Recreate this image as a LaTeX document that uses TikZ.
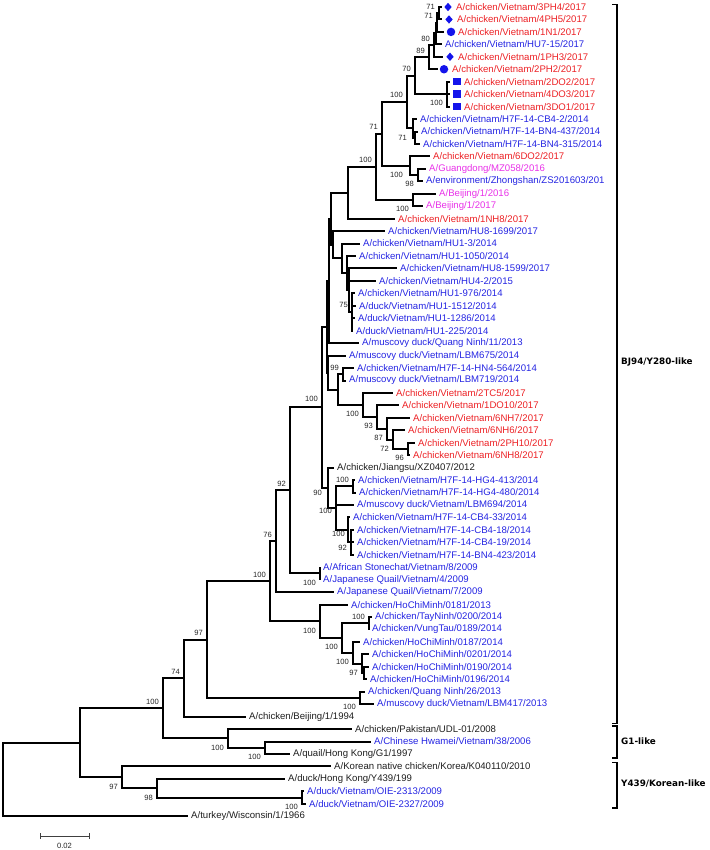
\documentclass[tikz,border=0pt]{standalone}
\usepackage{fontspec}
\usepackage{xcolor}
\usepackage{tikz}
\usetikzlibrary{shapes.geometric}
\setmainfont{Liberation Sans}
\newfontfamily\cladeface{DejaVu Sans}
\newcommand{\leaffont}{\fontsize{9.6pt}{11pt}\selectfont}
\newcommand{\bootfont}{\fontsize{7.6pt}{9pt}\selectfont}
\newcommand{\cladefont}{\cladeface\bfseries\fontsize{8.8pt}{10pt}\selectfont}
\definecolor{vnred}{RGB}{236,32,36}
\definecolor{vnblue}{RGB}{36,36,226}
\definecolor{cnpink}{RGB}{232,48,232}
\definecolor{mkblue}{RGB}{20,20,235}
\definecolor{oldblack}{RGB}{30,30,30}

\begin{document}
\begin{tikzpicture}[x=1pt, y=-12.45pt,
        branch/.style={line width=2pt},
        bracket/.style={line width=1.3pt},
        scalebar/.style={line width=0.9pt, black!75},
        leaf/.style={anchor=west, inner xsep=3pt, inner ysep=1pt, font=\leaffont},
        boot/.style={font=\bootfont, inner sep=0pt, text=black!85},
        bup/.style={boot, anchor=south east, xshift=-4pt, yshift=3.8pt},
        bdn/.style={boot, anchor=north east, xshift=-4pt, yshift=-6.3pt},
        clade/.style={anchor=west, inner sep=0pt, font=\cladefont},
        mdiam/.style={diamond, fill=mkblue, inner sep=0pt, minimum width=7.5pt, minimum height=8.5pt},
        mdot/.style={circle, fill=mkblue, inner sep=0pt, minimum size=8.5pt},
        msq/.style={rectangle, fill=mkblue, inner sep=0pt, minimum size=7.5pt}
    ]
    \useasboundingbox (0,0.4378) rectangle (709,68.71);

    % internal nodes
    \coordinate (n1) at (439,1.5);     \coordinate (n2) at (437,2.25);
    \coordinate (n3) at (436,3.125);   \coordinate (n4) at (434,4.06);
    \coordinate (n5) at (429,5.03);    \coordinate (n7) at (447,8);
    \coordinate (n6) at (415,6.52);    \coordinate (n9a) at (415,11.5);
    \coordinate (n9) at (413,10.75);   \coordinate (n8) at (407,8.63);
    \coordinate (n13) at (418,14.5);   \coordinate (n12) at (410,13.75);
    \coordinate (n11) at (382,11.19);  \coordinate (n14) at (413,16.5);
    \coordinate (n15) at (376,13.84);  \coordinate (n16) at (348,15.92);
    \coordinate (nH1) at (352,25.5);   \coordinate (nH2b) at (349,23.75);
    \coordinate (nH2a) at (347,22.375);\coordinate (nH3) at (342,21.19);
    \coordinate (nH4) at (333,20.09);  \coordinate (nD) at (331,18);
    \coordinate (nC) at (329,23);      \coordinate (n99a) at (343,30.5);
    \coordinate (n96) at (408,36.5);   \coordinate (n72) at (393,35.75);
    \coordinate (n87) at (387,34.875); \coordinate (n93) at (377,33.94);
    \coordinate (n100r) at (363,32.97);\coordinate (n338) at (338,31.73);
    \coordinate (nW) at (328,30.37);   \coordinate (nU) at (327,26.68);
    \coordinate (nHG) at (353,39.5);   \coordinate (nCB2) at (351,44);
    \coordinate (nCB) at (348,43);     \coordinate (nLow) at (336,41.25);
    \coordinate (nJ) at (328,39.63);   \coordinate (nBig) at (322,33.16);
    \coordinate (nSJ) at (320,46.5);   \coordinate (n92) at (290,39.83);
    \coordinate (n76) at (276,43.91);  \coordinate (nTV) at (369,50.5);
    \coordinate (nHCM5) at (364,54.5); \coordinate (nHCM4) at (362,53.75);
    \coordinate (nHCM3) at (353,52.875);\coordinate (nHCM2) at (342,51.69);
    \coordinate (nHCM) at (320,50.34); \coordinate (n100b) at (270,47.13);
    \coordinate (nQN) at (360,56.5);   \coordinate (n97) at (207,51.81);
    \coordinate (n74) at (184,54.91);  \coordinate (nG1b) at (265,60.5);
    \coordinate (nG1) at (228,59.75);  \coordinate (n100c) at (163,57.33);
    \coordinate (nOIE) at (302,64.5);  \coordinate (nY2) at (157,63.75);
    \coordinate (nY) at (122,62.875);  \coordinate (nR2) at (80,60.1);
    \coordinate (root) at (3,63.05);

    % leaves
    \coordinate (t1) at (442,1); \node[mdiam] (m1) at (448,1) {};
    \node[leaf, text=vnred] (l1) at (453,1) {A/chicken/Vietnam/3PH4/2017};
    \coordinate (t2) at (442,2); \node[mdiam] (m2) at (449,2) {};
    \node[leaf, text=vnred] (l2) at (454,2) {A/chicken/Vietnam/4PH5/2017};
    \coordinate (t3) at (444,3); \node[mdot] (m3) at (451,3) {};
    \node[leaf, text=vnred] (l3) at (455,3) {A/chicken/Vietnam/1N1/2017};
    \node[leaf, text=vnblue] (l4) at (442,4) {A/chicken/Vietnam/HU7-15/2017};
    \coordinate (t5) at (443,5); \node[mdiam] (m5) at (450,5) {};
    \node[leaf, text=vnred] (l5) at (455,5) {A/chicken/Vietnam/1PH3/2017};
    \coordinate (t6) at (438,6); \node[mdot] (m6) at (444,6) {};
    \node[leaf, text=vnred] (l6) at (449,6) {A/chicken/Vietnam/2PH2/2017};
    \coordinate (t7) at (450,7); \node[msq] (m7) at (457,7) {};
    \node[leaf, text=vnred] (l7) at (461,7) {A/chicken/Vietnam/2DO2/2017};
    \coordinate (t8) at (450,8); \node[msq] (m8) at (457,8) {};
    \node[leaf, text=vnred] (l8) at (461,8) {A/chicken/Vietnam/4DO3/2017};
    \coordinate (t9) at (450,9); \node[msq] (m9) at (457,9) {};
    \node[leaf, text=vnred] (l9) at (461,9) {A/chicken/Vietnam/3DO1/2017};
    \node[leaf, text=vnblue] (l10) at (417,10) {A/chicken/Vietnam/H7F-14-CB4-2/2014};
    \node[leaf, text=vnblue] (l11) at (418,11) {A/chicken/Vietnam/H7F-14-BN4-437/2014};
    \node[leaf, text=vnblue] (l12) at (420,12) {A/chicken/Vietnam/H7F-14-BN4-315/2014};
    \node[leaf, text=vnred] (l13) at (430,13) {A/chicken/Vietnam/6DO2/2017};
    \node[leaf, text=cnpink] (l14) at (426,14) {A/Guangdong/MZ058/2016};
    \node[leaf, text=vnblue] (l15) at (423,15) {A/environment/Zhongshan/ZS201603/201};
    \node[leaf, text=cnpink] (l16) at (436,16) {A/Beijing/1/2016};
    \node[leaf, text=cnpink] (l17) at (423,17) {A/Beijing/1/2017};
    \node[leaf, text=vnred] (l18) at (395,18) {A/chicken/Vietnam/1NH8/2017};
    \node[leaf, text=vnblue] (l19) at (385,19) {A/chicken/Vietnam/HU8-1699/2017};
    \node[leaf, text=vnblue] (l20) at (360,20) {A/chicken/Vietnam/HU1-3/2014};
    \node[leaf, text=vnblue] (l21) at (356,21) {A/chicken/Vietnam/HU1-1050/2014};
    \node[leaf, text=vnblue] (l22) at (397,22) {A/chicken/Vietnam/HU8-1599/2017};
    \node[leaf, text=vnblue] (l23) at (376,23) {A/chicken/Vietnam/HU4-2/2015};
    \node[leaf, text=vnblue] (l24) at (355,24) {A/chicken/Vietnam/HU1-976/2014};
    \node[leaf, text=vnblue] (l25) at (356,25) {A/duck/Vietnam/HU1-1512/2014};
    \node[leaf, text=vnblue] (l26) at (355,26) {A/duck/Vietnam/HU1-1286/2014};
    \node[leaf, text=vnblue] (l27) at (353,27) {A/duck/Vietnam/HU1-225/2014};
    \node[leaf, text=vnblue] (l28) at (359,28) {A/muscovy duck/Quang Ninh/11/2013};
    \node[leaf, text=vnblue] (l29) at (346,29) {A/muscovy duck/Vietnam/LBM675/2014};
    \node[leaf, text=vnblue] (l30) at (354,30) {A/chicken/Vietnam/H7F-14-HN4-564/2014};
    \node[leaf, text=vnblue] (l31) at (346,31) {A/muscovy duck/Vietnam/LBM719/2014};
    \node[leaf, text=vnred] (l32) at (393,32) {A/chicken/Vietnam/2TC5/2017};
    \node[leaf, text=vnred] (l33) at (399,33) {A/chicken/Vietnam/1DO10/2017};
    \node[leaf, text=vnred] (l34) at (410,34) {A/chicken/Vietnam/6NH7/2017};
    \node[leaf, text=vnred] (l35) at (405,35) {A/chicken/Vietnam/6NH6/2017};
    \node[leaf, text=vnred] (l36) at (415,36) {A/chicken/Vietnam/2PH10/2017};
    \node[leaf, text=vnred] (l37) at (410,37) {A/chicken/Vietnam/6NH8/2017};
    \node[leaf, text=oldblack] (l38) at (334,38) {A/chicken/Jiangsu/XZ0407/2012};
    \node[leaf, text=vnblue] (l39) at (355,39) {A/chicken/Vietnam/H7F-14-HG4-413/2014};
    \node[leaf, text=vnblue] (l40) at (356,40) {A/chicken/Vietnam/H7F-14-HG4-480/2014};
    \node[leaf, text=vnblue] (l41) at (354,41) {A/muscovy duck/Vietnam/LBM694/2014};
    \node[leaf, text=vnblue] (l42) at (350,42) {A/chicken/Vietnam/H7F-14-CB4-33/2014};
    \node[leaf, text=vnblue] (l43) at (354,43) {A/chicken/Vietnam/H7F-14-CB4-18/2014};
    \node[leaf, text=vnblue] (l44) at (354,44) {A/chicken/Vietnam/H7F-14-CB4-19/2014};
    \node[leaf, text=vnblue] (l45) at (354,45) {A/chicken/Vietnam/H7F-14-BN4-423/2014};
    \node[leaf, text=vnblue] (l46) at (320,46) {A/African Stonechat/Vietnam/8/2009};
    \node[leaf, text=vnblue] (l47) at (320,47) {A/Japanese Quail/Vietnam/4/2009};
    \node[leaf, text=vnblue] (l48) at (334,48) {A/Japanese Quail/Vietnam/7/2009};
    \node[leaf, text=vnblue] (l49) at (348,49) {A/chicken/HoChiMinh/0181/2013};
    \node[leaf, text=vnblue] (l50) at (372,50) {A/chicken/TayNinh/0200/2014};
    \node[leaf, text=vnblue] (l51) at (369,51) {A/chicken/VungTau/0189/2014};
    \node[leaf, text=vnblue] (l52) at (360,52) {A/chicken/HoChiMinh/0187/2014};
    \node[leaf, text=vnblue] (l53) at (369,53) {A/chicken/HoChiMinh/0201/2014};
    \node[leaf, text=vnblue] (l54) at (369,54) {A/chicken/HoChiMinh/0190/2014};
    \node[leaf, text=vnblue] (l55) at (367,55) {A/chicken/HoChiMinh/0196/2014};
    \node[leaf, text=vnblue] (l56) at (365,56) {A/chicken/Quang Ninh/26/2013};
    \node[leaf, text=vnblue] (l57) at (374,57) {A/muscovy duck/Vietnam/LBM417/2013};
    \node[leaf, text=oldblack] (l58) at (246,58) {A/chicken/Beijing/1/1994};
    \node[leaf, text=oldblack] (l59) at (352,59) {A/chicken/Pakistan/UDL-01/2008};
    \node[leaf, text=vnblue] (l60) at (371,60) {A/Chinese Hwamei/Vietnam/38/2006};
    \node[leaf, text=oldblack] (l61) at (290,61) {A/quail/Hong Kong/G1/1997};
    \node[leaf, text=oldblack] (l62) at (331,62) {A/Korean native chicken/Korea/K040110/2010};
    \node[leaf, text=oldblack] (l63) at (285,63) {A/duck/Hong Kong/Y439/199};
    \node[leaf, text=vnblue] (l64) at (304,64) {A/duck/Vietnam/OIE-2313/2009};
    \node[leaf, text=vnblue] (l65) at (306,65) {A/duck/Vietnam/OIE-2327/2009};
    \node[leaf, text=oldblack] (l66) at (188,66) {A/turkey/Wisconsin/1/1966};

    % branches
    \draw[branch] (n1) |- (t1); \draw[branch] (n1) |- (t2);
    \draw[branch] (n2) |- (n1); \draw[branch] (n2) |- (t3);
    \draw[branch] (n3) |- (n2); \draw[branch] (n3) |- (l4.west);
    \draw[branch] (n4) |- (n3); \draw[branch] (n4) |- (t5);
    \draw[branch] (n5) |- (n4); \draw[branch] (n5) |- (t6);
    \draw[branch] (n7) |- (t7); \draw[branch] (n7) |- (t8); \draw[branch] (n7) |- (t9);
    \draw[branch] (n6) |- (n5); \draw[branch] (n6) |- (n7);
    \draw[branch] (n9a) |- (l11.west); \draw[branch] (n9a) |- (l12.west);
    \draw[branch] (n9) |- (l10.west); \draw[branch] (n9) |- (n9a);
    \draw[branch] (n8) |- (n6); \draw[branch] (n8) |- (n9);
    \draw[branch] (n13) |- (l14.west); \draw[branch] (n13) |- (l15.west);
    \draw[branch] (n12) |- (l13.west); \draw[branch] (n12) |- (n13);
    \draw[branch] (n11) |- (n8); \draw[branch] (n11) |- (n12);
    \draw[branch] (n14) |- (l16.west); \draw[branch] (n14) |- (l17.west);
    \draw[branch] (n15) |- (n11); \draw[branch] (n15) |- (n14);
    \draw[branch] (n16) |- (n15); \draw[branch] (n16) |- (l18.west);
    \draw[branch] (nH1) |- (l24.west); \draw[branch] (nH1) |- (l25.west);
    \draw[branch] (nH1) |- (l26.west); \draw[branch] (nH1) |- (l27.west);
    \draw[branch] (nH2b) |- (l22.west); \draw[branch] (nH2b) |- (l23.west); \draw[branch] (nH2b) |- (nH1);
    \draw[branch] (nH2a) |- (l21.west); \draw[branch] (nH2a) |- (nH2b);
    \draw[branch] (nH3) |- (l20.west); \draw[branch] (nH3) |- (nH2a);
    \draw[branch] (nH4) |- (l19.west); \draw[branch] (nH4) |- (nH3);
    \draw[branch] (nD) |- (n16); \draw[branch] (nD) |- (nH4);
    \draw[branch] (nC) |- (nD); \draw[branch] (nC) |- (l28.west);
    \draw[branch] (n99a) |- (l30.west); \draw[branch] (n99a) |- (l31.west);
    \draw[branch] (n96) |- (l36.west); \draw[branch] (n96) |- (l37.west);
    \draw[branch] (n72) |- (l35.west); \draw[branch] (n72) |- (n96);
    \draw[branch] (n87) |- (l34.west); \draw[branch] (n87) |- (n72);
    \draw[branch] (n93) |- (l33.west); \draw[branch] (n93) |- (n87);
    \draw[branch] (n100r) |- (l32.west); \draw[branch] (n100r) |- (n93);
    \draw[branch] (n338) |- (n99a); \draw[branch] (n338) |- (n100r);
    \draw[branch] (nW) |- (l29.west); \draw[branch] (nW) |- (n338);
    \draw[branch] (nU) |- (nC); \draw[branch] (nU) |- (nW);
    \draw[branch] (nHG) |- (l39.west); \draw[branch] (nHG) |- (l40.west);
    \draw[branch] (nCB2) |- (l43.west); \draw[branch] (nCB2) |- (l44.west); \draw[branch] (nCB2) |- (l45.west);
    \draw[branch] (nCB) |- (l42.west); \draw[branch] (nCB) |- (nCB2);
    \draw[branch] (nLow) |- (nHG); \draw[branch] (nLow) |- (l41.west); \draw[branch] (nLow) |- (nCB);
    \draw[branch] (nJ) |- (l38.west); \draw[branch] (nJ) |- (nLow);
    \draw[branch] (nBig) |- (nU); \draw[branch] (nBig) |- (nJ);
    \draw[branch] (nSJ) |- (l46.west); \draw[branch] (nSJ) |- (l47.west);
    \draw[branch] (n92) |- (nBig); \draw[branch] (n92) |- (nSJ);
    \draw[branch] (n76) |- (n92); \draw[branch] (n76) |- (l48.west);
    \draw[branch] (nTV) |- (l50.west); \draw[branch] (nTV) |- (l51.west);
    \draw[branch] (nHCM5) |- (l54.west); \draw[branch] (nHCM5) |- (l55.west);
    \draw[branch] (nHCM4) |- (l53.west); \draw[branch] (nHCM4) |- (nHCM5);
    \draw[branch] (nHCM3) |- (l52.west); \draw[branch] (nHCM3) |- (nHCM4);
    \draw[branch] (nHCM2) |- (nTV); \draw[branch] (nHCM2) |- (nHCM3);
    \draw[branch] (nHCM) |- (l49.west); \draw[branch] (nHCM) |- (nHCM2);
    \draw[branch] (n100b) |- (n76); \draw[branch] (n100b) |- (nHCM);
    \draw[branch] (nQN) |- (l56.west); \draw[branch] (nQN) |- (l57.west);
    \draw[branch] (n97) |- (n100b); \draw[branch] (n97) |- (nQN);
    \draw[branch] (n74) |- (n97); \draw[branch] (n74) |- (l58.west);
    \draw[branch] (nG1b) |- (l60.west); \draw[branch] (nG1b) |- (l61.west);
    \draw[branch] (nG1) |- (l59.west); \draw[branch] (nG1) |- (nG1b);
    \draw[branch] (n100c) |- (n74); \draw[branch] (n100c) |- (nG1);
    \draw[branch] (nOIE) |- (l64.west); \draw[branch] (nOIE) |- (l65.west);
    \draw[branch] (nY2) |- (l63.west); \draw[branch] (nY2) |- (nOIE);
    \draw[branch] (nY) |- (l62.west); \draw[branch] (nY) |- (nY2);
    \draw[branch] (nR2) |- (n100c); \draw[branch] (nR2) |- (nY);
    \draw[branch] (root) |- (nR2); \draw[branch] (root) |- (l66.west);

    % bootstrap values
    \node[bup] at (n1) {71};     \node[bup] at (n2) {71};
    \node[bup] at (n4) {80};     \node[bup] at (n5) {89};
    \node[bup] at (n6) {70};     \node[bdn] at (n7) {100};
    \node[bdn, xshift=-2pt] at (n9) {71};  \node[bup] at (n8) {100};
    \node[bup] at (n11) {71};    \node[bdn, xshift=-3pt] at (n12) {100};
    \node[bdn] at (n13) {98};    \node[bdn] at (n14) {100};
    \node[bup] at (n15) {100};   \node[bup] at (nH1) {75};
    \node[bup] at (n99a) {99};   \node[bdn] at (n100r) {100};
    \node[bdn] at (n93) {93};    \node[bdn] at (n87) {87};
    \node[bdn] at (n72) {72};    \node[bdn] at (n96) {96};
    \node[bup] at (nHG) {100};
    \node[boot, anchor=east, xshift=-6pt, yshift=-5pt] at (nJ) {90};
    \node[boot, anchor=east, xshift=-4pt, yshift=-3pt] at (nLow) {100};
    \node[boot, anchor=east, xshift=-3pt, yshift=-4pt] at (nCB) {100};
    \node[boot, anchor=east, xshift=-4pt, yshift=-6pt] at (nCB2) {92};
    \node[bup, yshift=1.5pt] at (nBig) {100};
    \node[bdn] at (nSJ) {100};   \node[bup] at (n92) {92};
    \node[bup] at (n76) {76};    \node[bup] at (nTV) {100};
    \node[bdn] at (nHCM4) {97};  \node[bdn] at (nHCM3) {100};
    \node[bdn] at (nHCM2) {100}; \node[bdn] at (nHCM) {100};
    \node[bup] at (n100b) {100}; \node[bdn] at (nQN) {100};
    \node[bup] at (n97) {97};    \node[bup] at (n74) {74};
    \node[bdn] at (nG1b) {100};  \node[bdn] at (nG1) {100};
    \node[bup] at (n100c) {100}; \node[bdn] at (nOIE) {100};
    \node[bdn] at (nY2) {98};    \node[bdn] at (nY) {97};

    % lineage brackets
    \draw[bracket] (612,0.79) -| (617,58.56) -- (612,58.56);
    \draw[bracket] (612,58.75) -| (617,61.32) -- (612,61.32);
    \draw[bracket] (612,61.67) -| (617,65.33) -- (612,65.33);
    \node[clade] (bj94) at (621,29.5) {BJ94/Y280-like};
    \node[clade] (g1) at (621,59.96) {G1-like};
    \node[clade] (y439) at (621,63.41) {Y439/Korean-like};

    % scale bar
    \coordinate (sbl) at (40,67.59); \coordinate (sbr) at (89,67.59);
    \draw[scalebar] (sbl) -- (sbr);
    \draw[scalebar] ([yshift=3pt]sbl) -- ([yshift=-3pt]sbl);
    \draw[scalebar] ([yshift=3pt]sbr) -- ([yshift=-3pt]sbr);
    \node[boot] (sblab) at (64.5,68.35) {0.02};
\end{tikzpicture}
\end{document}
